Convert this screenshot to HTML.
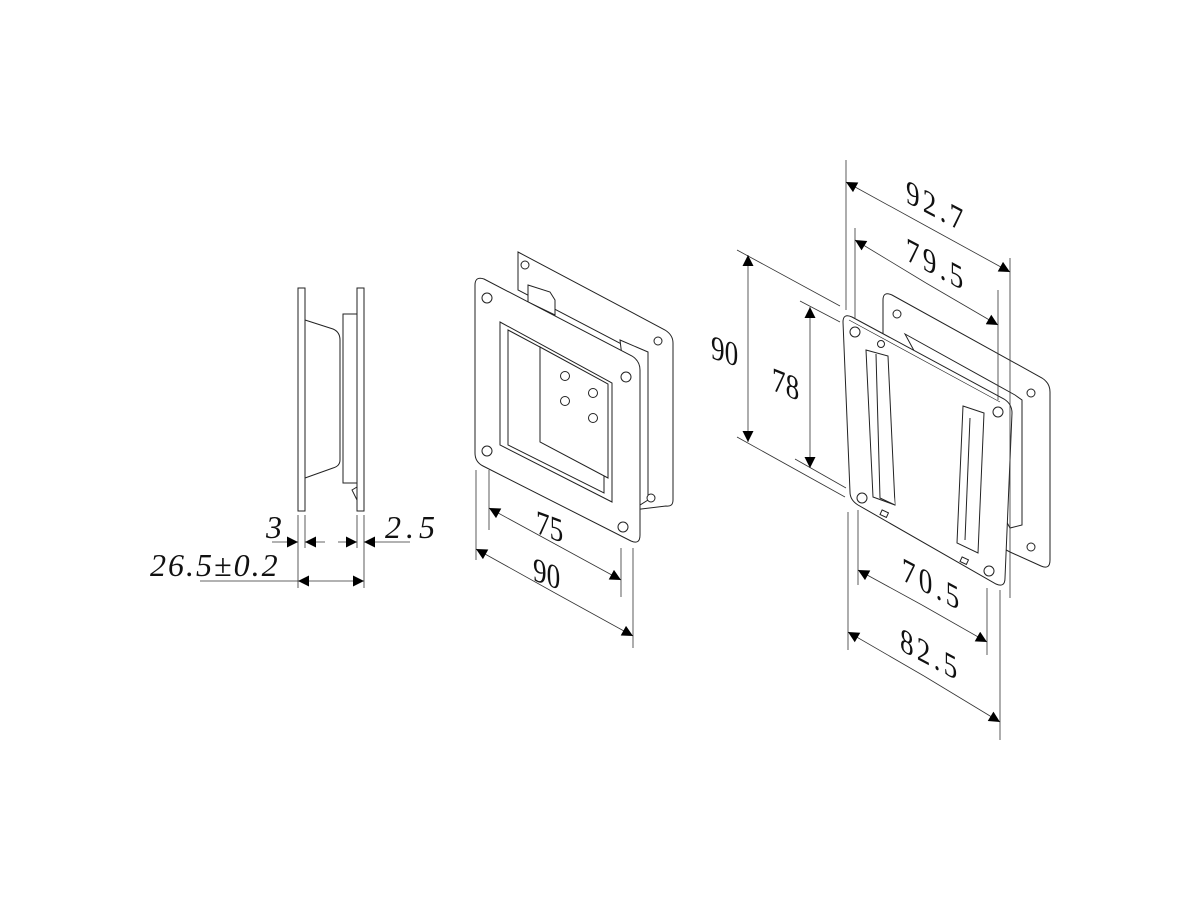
<!DOCTYPE html>
<html><head><meta charset="utf-8"><style>
html,body{margin:0;padding:0;background:#fff;}
svg{display:block}
text{fill:#111;}
.u{font-family:"Liberation Serif","DejaVu Serif",serif;font-style:normal;font-weight:normal;}
.i{font-family:"Liberation Serif","DejaVu Serif",serif;font-style:italic;}
</style></head><body>
<svg width="1200" height="900" viewBox="0 0 1200 900" xmlns="http://www.w3.org/2000/svg">
<defs>
<marker id="a" viewBox="0 0 10 10" refX="10" refY="5" markerWidth="13" markerHeight="11" markerUnits="userSpaceOnUse" orient="auto"><path d="M0,0 L10,5 L0,10 z" fill="#000"/></marker>
</defs>
<g fill="none" stroke="#222" stroke-width="1">
<rect x="298" y="288" width="7" height="223"/>
<rect x="357" y="288" width="7" height="223"/>
<path d="M305,320 L333,329 Q340,332 340,340 L340,460 Q340,466 333,468 L305,478"/>
<rect x="343" y="314" width="14" height="169"/>
<path d="M352,490 L357,487 L357,500 Z"/>
</g>
<g stroke="#333" stroke-width="0.8" fill="none">
<line x1="298" y1="515" x2="298" y2="588"/><line x1="305" y1="515" x2="305" y2="548"/>
<line x1="357" y1="515" x2="357" y2="548"/><line x1="364" y1="515" x2="364" y2="588"/>
<line x1="272" y1="542" x2="298" y2="542" marker-end="url(#a)"/>
<line x1="325" y1="542" x2="305" y2="542" marker-end="url(#a)"/>
<line x1="338" y1="542" x2="357" y2="542" marker-end="url(#a)"/>
<line x1="410" y1="542" x2="364" y2="542" marker-end="url(#a)"/>
<line x1="200" y1="581" x2="298" y2="581"/>
<line x1="330" y1="581" x2="298" y2="581" marker-end="url(#a)"/>
<line x1="330" y1="581" x2="364" y2="581" marker-end="url(#a)"/>
</g>
<text class="i" x="266" y="538" font-size="32">3</text>
<text class="i" x="385" y="538" font-size="32" letter-spacing="5">2.5</text>
<text class="i" x="150" y="576" font-size="32" letter-spacing="2">26.5±0.2</text>

<!-- MIDDLE -->
<g fill="#fff" stroke="#222" stroke-width="1">
<path d="M518,252 L665,330 Q673,335 673,343 L673,500 Q673,507 666,506 L633,510 L633,350 L518,290 Z"/>
<path d="M528,285 L550,292 L555,300 L555,315 L528,302 Z"/>
<path d="M620,340 L648,352 L648,500 L640,505 Z"/>
<path d="M475,285 Q475,276 484,279 L632,356 Q640,361 640,370 L640,535 Q640,545 631,541 L483,466 Q475,462 475,453 Z"/>
<path d="M500,322 L612,383 L612,502 L500,445 Z"/>
<path d="M508,330 L540,347 L540,440 L604,475 L604,493 L508,445 Z"/>
<path d="M540,347 L608,384 L608,478 L540,442 Z"/>
<circle cx="487" cy="298" r="5"/><circle cx="626" cy="377" r="5"/>
<circle cx="487" cy="451" r="5"/><circle cx="623" cy="527" r="5"/>
<circle cx="658" cy="341" r="4"/><circle cx="651" cy="498" r="4"/><circle cx="525" cy="265" r="4"/>
<circle cx="565" cy="376" r="4.5"/><circle cx="593" cy="393" r="4.5"/>
<circle cx="565" cy="401" r="4.5"/><circle cx="593" cy="418" r="4.5"/>
</g>
<g stroke="#333" stroke-width="0.8" fill="none">
<line x1="489" y1="470" x2="489" y2="530"/><line x1="621" y1="548" x2="621" y2="597"/>
<line x1="476" y1="470" x2="476" y2="560"/><line x1="633" y1="548" x2="633" y2="648"/>
<line x1="555" y1="544" x2="489" y2="508" marker-end="url(#a)"/>
<line x1="555" y1="544" x2="621" y2="580" marker-end="url(#a)"/>
<line x1="555" y1="593" x2="476" y2="549" marker-end="url(#a)"/>
<line x1="555" y1="593" x2="633" y2="636" marker-end="url(#a)"/>
</g>
<text class="u" transform="translate(536,533) skewY(20) scale(0.8,1)" font-size="34">75</text>
<text class="u" transform="translate(533,580) skewY(20) scale(0.8,1)" font-size="34">90</text>

<!-- RIGHT -->
<g fill="#fff" stroke="#222" stroke-width="1">
<path d="M883,300 Q883,291 892,295 L1042,378 Q1050,383 1050,392 L1050,560 Q1050,570 1041,566 L1010,552 L883,485 Z"/>
<path d="M905,334 L1015,395 L1022,400 L1022,525 L1010,528 Z"/>
<path d="M843,322 Q843,313 852,317 L1004,399 Q1012,404 1012,413 L1005,578 Q1005,588 996,584 L858,505 Q850,500 850,492 Z"/>
<path d="M849,320 L1000,402" stroke-width="0.6"/>
<path d="M866,350 L888,356 L895,505 L873,497 Z"/>
<path d="M876,354 L880,498 L895,505"/>
<path d="M963,406 L984,413 L978,553 L957,543 Z"/>
<path d="M970,418 L965,540"/>
<circle cx="855" cy="332" r="5"/><circle cx="881" cy="344" r="3.5"/>
<circle cx="998" cy="412" r="5"/><circle cx="862" cy="498" r="5"/><circle cx="989" cy="571" r="5"/>
<circle cx="897" cy="314" r="4"/><circle cx="1031" cy="393" r="4"/><circle cx="1031" cy="547" r="4"/>
<rect x="881" y="511" width="7" height="5" transform="rotate(25 884 513)"/>
<rect x="961" y="558" width="7" height="5" transform="rotate(25 964 560)"/>
</g>
<g stroke="#333" stroke-width="0.8" fill="none">
<line x1="846" y1="160" x2="846" y2="310"/><line x1="1010" y1="258" x2="1010" y2="598"/>
<line x1="855" y1="228" x2="855" y2="318"/><line x1="998" y1="290" x2="998" y2="400"/>
<line x1="928" y1="227" x2="846" y2="182" marker-end="url(#a)"/>
<line x1="928" y1="227" x2="1010" y2="272" marker-end="url(#a)"/>
<line x1="926" y1="283" x2="855" y2="240" marker-end="url(#a)"/>
<line x1="926" y1="283" x2="998" y2="325" marker-end="url(#a)"/>
<line x1="737" y1="250" x2="840" y2="306"/><line x1="737" y1="437" x2="845" y2="497"/>
<line x1="800" y1="301" x2="840" y2="322"/><line x1="795" y1="459" x2="846" y2="488"/>
<line x1="748" y1="350" x2="748" y2="255" marker-end="url(#a)"/>
<line x1="748" y1="350" x2="748" y2="442" marker-end="url(#a)"/>
<line x1="810" y1="385" x2="810" y2="307" marker-end="url(#a)"/>
<line x1="810" y1="385" x2="810" y2="468" marker-end="url(#a)"/>
<line x1="858" y1="510" x2="858" y2="585"/><line x1="987" y1="588" x2="987" y2="655"/>
<line x1="848" y1="512" x2="848" y2="650"/><line x1="1000" y1="590" x2="1000" y2="740"/>
<line x1="922" y1="605" x2="858" y2="570" marker-end="url(#a)"/>
<line x1="922" y1="605" x2="987" y2="642" marker-end="url(#a)"/>
<line x1="924" y1="676" x2="848" y2="632" marker-end="url(#a)"/>
<line x1="924" y1="676" x2="1000" y2="722" marker-end="url(#a)"/>
</g>
<text class="u" transform="translate(906,202) skewY(28) scale(0.8,1)" font-size="34" letter-spacing="4">92.7</text>
<text class="u" transform="translate(906,260) skewY(28) scale(0.8,1)" font-size="34" letter-spacing="4">79.5</text>
<text class="u" transform="translate(711,358) skewY(18) scale(0.8,1)" font-size="34">90</text>
<text class="u" transform="translate(772,390) skewY(22) scale(0.8,1)" font-size="34">78</text>
<text class="u" transform="translate(902,580) skewY(28) scale(0.8,1)" font-size="34" letter-spacing="4">70.5</text>
<text class="u" transform="translate(900,650) skewY(28) scale(0.8,1)" font-size="34" letter-spacing="4">82.5</text>
</svg>
</body></html>
